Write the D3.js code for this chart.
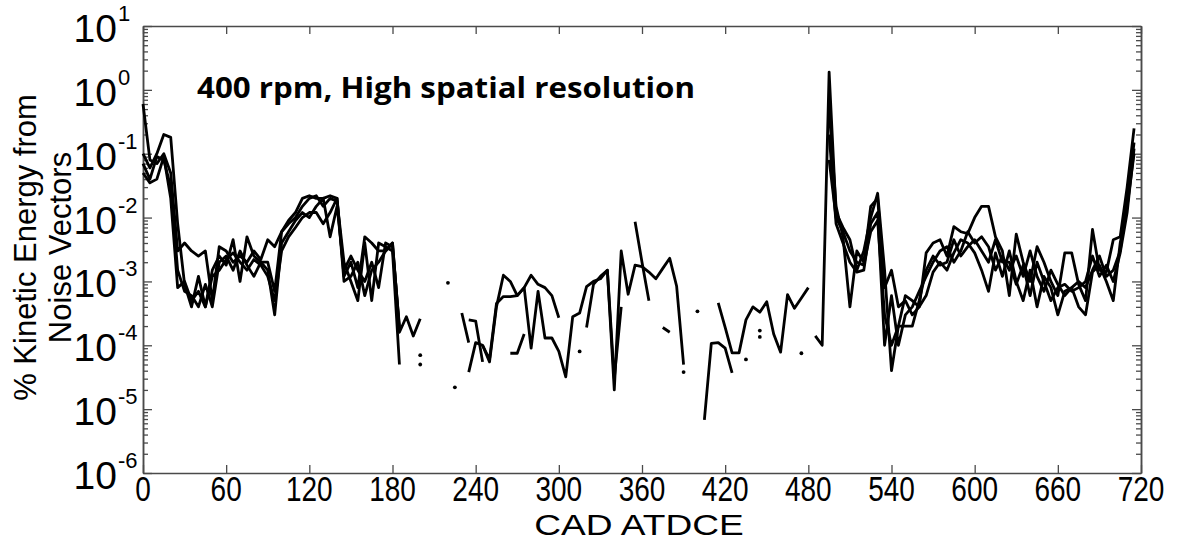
<!DOCTYPE html>
<html><head><meta charset="utf-8">
<script src="https://cdn.jsdelivr.net/npm/d3@7"></script>
<style>body{margin:0;background:#fff;} svg{display:block;}</style>
</head><body>
<svg id="chart" width="1177" height="541"></svg>
<script>
// ---- data ----
const cad = [
  0,5,10,15,20,25,30,35,40,45, 50,55,60,65,70,75,80,85,90,95,
  100,105,110,115,120,125,130,135,140,145, 150,155,160,165,170,175,180,185,190,195,
  200,205,210,215,220,225,230,235,240,245, 250,255,260,265,270,275,280,285,290,295,
  300,305,310,315,320,325,330,335,340,345, 350,355,360,365,370,375,380,385,390,395,
  400,405,410,415,420,425,430,435,440,445, 450,455,460,465,470,475,480,485,490,495,
  500,505,510,515,520,525,530,535,540,545, 550,555,560,565,570,575,580,585,590,595,
  600,605,610,615,620,625,630,635,640,645, 650,655,660,665,670,675,680,685,690,695,
  700,705,710,715,720];
const N = null;
const seriesA = [
  0.6,0.08,0.07,0.1,0.05,0.003,0.004,0.003,0.0025,0.003,
  0.0005,0.0035,0.003,0.002,0.0025,0.002,0.003,0.0022,0.0045,0.0035,
  0.006,0.009,0.012,0.02,0.022,0.02,0.02,0.022,0.02,0.0012,
  0.002,0.0008,0.005,0.004,0.003,0.003,0.004,1.6e-4,2.8e-4,1.4e-4,
  2.6e-4,N,N,N,N,N,3.2e-4,1.1e-4,N,N,
  N,N,N,N,N,N,N,N,N,N,
  N,N,N,N,1.9e-4,9e-4,1.2e-3,1.5e-3,3e-5,4e-4,
  N,8.6e-3,2e-3,5e-4,N,N,N,N,N,N,
  3.4e-4,N,N,N,N,N,N,N,N,1.7e-4,
  N,N,N,N,N,N,N,1.4e-4,1e-4,1.9,
  0.012,0.007,0.0045,0.0015,0.003,0.01,0.024,0.0015,4e-5,2e-4,
  6e-4,5e-4,4e-4,0.0028,0.004,0.0045,0.0025,0.0072,0.006,0.0056,
  0.01,0.015,0.015,0.005,0.003,0.0006,0.0055,0.002,0.001,0.0035,
  0.002,0.001,0.0006,0.0028,0.0028,0.0009,0.0005,0.0065,0.0015,0.0014,
  0.0045,0.005,0.03,0.25,N];
const seriesB = [
  0.1,0.06,0.1,0.2,0.18,0.008,0.0009,0.0004,0.0012,0.0004,
  0.0015,0.0025,0.0018,0.0045,0.001,0.005,0.0025,0.002,0.002,0.0007,
  0.006,0.008,0.01,0.015,0.02,0.022,0.015,0.02,0.018,0.002,
  0.001,0.0005,0.004,0.0005,0.004,0.0035,0.003,5e-5,N,N,
  7e-5,N,N,N,9.5e-4,N,N,2.5e-4,2.4e-4,5.5e-5,
  N,N,N,7.5e-5,7.5e-5,1.5e-4,N,N,N,N,
  N,N,N,8e-5,N,N,N,N,N,N,
  N,N,N,N,N,N,N,N,N,N,
  N,6.8e-6,1.07e-4,1.1e-4,9e-5,3.7e-5,N,N,N,N,
  N,N,N,N,N,7.5e-5,N,N,N,0.5,
  0.015,0.005,0.0004,0.003,0.002,0.015,0.02,0.0008,0.0015,0.0004,
  0.0005,0.0003,0.0004,0.0006,0.0014,0.002,0.0015,0.0028,0.0045,0.004,
  0.0028,0.0015,0.0007,0.0028,0.0012,0.003,0.001,0.0005,0.0015,0.0004,
  0.0012,0.0008,0.0003,0.0007,0.0008,0.0004,0.0003,0.0014,0.0018,0.001,
  0.0005,0.004,0.015,0.1,N];
const seriesC = [
  0.07,0.04,0.09,0.08,0.03,0.0015,0.0007,0.0006,0.0004,0.0009,
  0.0004,0.002,0.0025,0.0015,0.003,0.0018,0.0012,0.002,0.0015,0.0003,
  0.004,0.006,0.009,0.012,0.01,0.015,0.02,0.005,0.015,0.0015,
  0.0025,0.0015,0.001,0.002,0.0008,0.004,0.0035,2e-4,N,N,
  5e-5,N,N,N,N,2.2e-5,N,3.8e-5,1.1e-4,1e-4,
  5.5e-5,4e-4,1.25e-3,1e-3,6e-4,8e-4,1.25e-3,9e-4,8e-4,6e-4,
  2.7e-4,N,N,N,N,N,N,N,N,N,
  N,N,N,N,N,1.9e-4,1.6e-4,N,3.8e-5,N,
  N,N,N,N,N,N,N,6e-5,N,1.35e-4,
  N,N,N,N,N,N,N,N,N,0.2,
  0.008,0.004,0.002,0.0014,0.0015,0.008,0.012,0.0001,0.0006,0.0001,
  0.0003,0.0004,0.0007,0.0012,0.002,0.003,0.0035,0.002,0.003,0.006,
  0.004,0.005,0.0035,0.0015,0.0025,0.0015,0.0025,0.0012,0.003,0.0012,
  0.0007,0.0015,0.0009,0.0006,0.0008,0.001,0.0008,0.0015,0.0025,0.0012,
  0.0015,0.003,0.02,0.15,N];
const seriesD = [
  0.05,0.035,0.04,0.09,0.02,0.0008,0.001,0.0005,0.0007,0.0004,
  0.0012,0.0015,0.0022,0.0028,0.002,0.0015,0.0022,0.0018,0.0012,0.0005,
  0.003,0.005,0.007,0.01,0.012,0.012,0.008,0.012,0.02,0.001,
  0.0012,0.002,0.0006,0.0015,0.002,0.003,0.004,1.8e-4,N,N,
  N,N,N,N,N,N,N,N,N,1e-4,
  6e-5,4.5e-4,5.8e-4,5.8e-4,6e-4,8e-4,9e-5,7e-4,1.3e-4,1.3e-4,
  8e-5,3.2e-5,2.8e-4,3.2e-4,8.3e-4,1e-3,1.1e-3,1.5e-3,2e-5,3e-3,
  6.3e-4,1.8e-3,1.7e-3,1.4e-3,1.1e-3,1.6e-3,2.3e-3,8.4e-4,5e-5,N,
  N,N,N,4.6e-4,1.9e-4,7.6e-5,7.6e-5,2.5e-4,4e-4,3.3e-4,
  4.8e-4,1.5e-4,7.8e-5,6.2e-4,3.8e-4,5.5e-4,8e-4,N,N,0.08,
  0.01,0.006,0.003,0.002,0.0018,0.006,0.009,0.0003,0.0001,0.0002,
  0.0002,0.0002,0.0005,0.0015,0.0025,0.0018,0.002,0.0045,0.0025,0.0035,
  0.0045,0.003,0.002,0.0045,0.002,0.002,0.0009,0.0018,0.0006,0.002,
  0.001,0.0005,0.0008,0.0009,0.0007,0.0008,0.001,0.0025,0.0012,0.0018,
  0.001,0.0028,0.012,0.12,N];
const xTicks = [0,60,120,180,240,300,360,420,480,540,600,660,720];
const yExponents = [1,0,-1,-2,-3,-4,-5,-6];
const minorMultipliers = [2,3,4,5,6,7,8,9];
const titleText = "400 rpm, High spatial resolution";
const xTitle = "CAD ATDCE";
const yTitleLines = ["% Kinetic Energy from", "Noise Vectors"];

// ---- layout ----
const L = 143, R = 1141, T = 26, B = 473;
const svg = d3.select("#chart");
const x = d3.scaleLinear().domain([0, 720]).range([L, R]);
const y = d3.scaleLog().domain([1e-6, 10]).range([B, T]);
const axisColor = "#4a4a4a";
const font = "'Liberation Sans', Arial, sans-serif";

const majorVals = yExponents.map(e => Math.pow(10, e));
const minorVals = [];
yExponents.filter(e => e < 1).forEach(e => minorMultipliers.forEach(m => minorVals.push(m * Math.pow(10, e))));

function styleAxis(g) {
  g.selectAll("path.domain").attr("stroke", axisColor).attr("stroke-width", 1.5);
  g.selectAll(".tick line").attr("stroke", axisColor).attr("stroke-width", 1.3);
  g.selectAll("text").remove();
}
svg.append("g").attr("transform", `translate(0,${B})`)
  .call(d3.axisBottom(x).tickValues(xTicks).tickSizeInner(-8).tickSizeOuter(0).tickFormat(""))
  .call(styleAxis);
svg.append("g").attr("transform", `translate(0,${T})`)
  .call(d3.axisTop(x).tickValues(xTicks).tickSizeInner(-8).tickSizeOuter(0).tickFormat(""))
  .call(styleAxis);
[[d3.axisLeft, L], [d3.axisRight, R]].forEach(([fn, pos]) => {
  svg.append("g").attr("transform", `translate(${pos},0)`)
    .call(fn(y).tickValues(majorVals).tickSizeInner(-9).tickSizeOuter(0).tickFormat(""))
    .call(styleAxis);
  svg.append("g").attr("transform", `translate(${pos},0)`)
    .call(fn(y).tickValues(minorVals).tickSizeInner(-5).tickSizeOuter(0).tickFormat(""))
    .call(styleAxis);
});

// x tick labels (condensed as in the reference)
svg.append("g").selectAll("text").data(xTicks).join("text")
  .attr("transform", d => `translate(${x(d)},501) scale(0.8,1)`)
  .attr("text-anchor", "middle")
  .attr("font-family", font).attr("font-size", 35)
  .text(d => d);
// y tick labels 10^e
const yl = svg.append("g").selectAll("g").data(yExponents).join("g");
yl.append("text")
  .attr("x", 117).attr("y", d => y(Math.pow(10, d)) + 16)
  .attr("text-anchor", "end")
  .attr("font-family", font).attr("font-size", 39)
  .text("10");
yl.append("text")
  .attr("x", 118).attr("y", d => y(Math.pow(10, d)) - 5)
  .attr("text-anchor", "start")
  .attr("font-family", font).attr("font-size", 22)
  .text(d => d < 0 ? "-" + Math.abs(d) : String(d));

// axis titles
svg.append("text").attr("transform", "translate(639,535) scale(1.28,1)")
  .attr("text-anchor", "middle").attr("font-family", font).attr("font-size", 29)
  .text(xTitle);
yTitleLines.forEach((t, i) => {
  svg.append("text")
    .attr("transform", `translate(${36 + i * 35},${(T + B) / 2 - 2}) rotate(-90)`)
    .attr("text-anchor", "middle").attr("font-family", font).attr("font-size", 31)
    .text(t);
});

// annotation
svg.append("text").attr("x", 197).attr("y", 98)
  .attr("font-family", "'Open Sans', 'Liberation Sans', sans-serif")
  .attr("font-weight", "bold").attr("font-size", 29)
  .attr("textLength", 498).attr("lengthAdjust", "spacingAndGlyphs")
  .text(titleText);

// data lines
const allSeries = [seriesA, seriesB, seriesC, seriesD];
const line = d3.line().defined(d => d.v != null).x(d => x(d.c)).y(d => y(d.v));
const plot = svg.append("g");
allSeries.forEach(s => {
  const pts = cad.map((c, i) => ({ c, v: s[i] }));
  plot.append("path").datum(pts)
    .attr("fill", "none").attr("stroke", "#000").attr("stroke-width", 2.8)
    .attr("stroke-linejoin", "round").attr("d", line);
  const iso = pts.filter((d, i) => d.v != null &&
    (i === 0 || pts[i - 1].v == null) && (i === pts.length - 1 || pts[i + 1].v == null));
  plot.selectAll(null).data(iso).join("circle")
    .attr("cx", d => x(d.c)).attr("cy", d => y(d.v)).attr("r", 1.9).attr("fill", "#000");
});
</script>
</body></html>
